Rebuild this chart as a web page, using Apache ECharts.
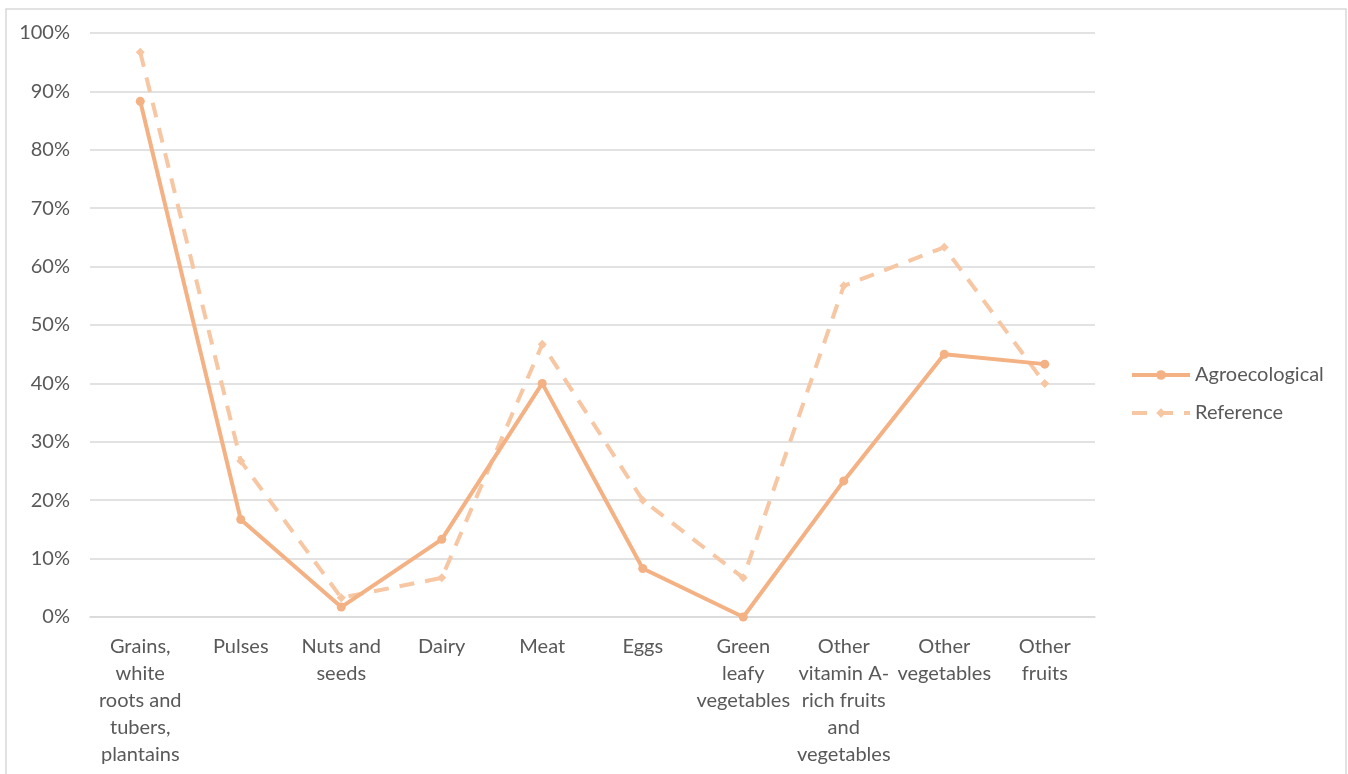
<!DOCTYPE html>
<html>
<head>
<meta charset="utf-8">
<script src="https://cdn.jsdelivr.net/npm/echarts@6/dist/echarts.min.js"></script>
<style>
  html, body { margin: 0; padding: 0; background: #fff; }
  #chart { width: 1348px; height: 774px; }
</style>
</head>
<body>
<div id="chart"></div>
<script>
// Food groups on the x axis
const categories = [
  'Grains,\nwhite\nroots and\ntubers,\nplantains',
  'Pulses',
  'Nuts and\nseeds',
  'Dairy',
  'Meat',
  'Eggs',
  'Green\nleafy\nvegetables',
  'Other\nvitamin A-\nrich fruits\nand\nvegetables',
  'Other\nvegetables',
  'Other\nfruits'
];

// Share of households consuming each group (%)
const agroecological = [88.3, 16.7, 1.7, 13.3, 40.0, 8.3, 0.0, 23.3, 45.0, 43.3];
const reference      = [96.7, 26.7, 3.3, 6.7, 46.7, 20.0, 6.7, 56.7, 63.3, 40.0];

const seriesNames = ['Agroecological', 'Reference'];

const FONT = 'Lato, "Open Sans", "Liberation Sans", sans-serif';
const TEXT = '#595959';
const FS = 20;

const chart = echarts.init(document.getElementById('chart'));
chart.setOption({
  animation: false,
  textStyle: { fontFamily: FONT },
  graphic: [{
    type: 'rect',
    shape: { x: 6, y: 9, width: 1340, height: 780 },
    style: { fill: 'none', stroke: '#d9d9d9', lineWidth: 1.5 },
    silent: true
  }],
  grid: { left: 90, right: 253, top: 33, bottom: 157, containLabel: false },
  legend: {
    orient: 'vertical',
    left: 1125,
    top: 360,
    itemWidth: 58,
    itemHeight: 12,
    itemGap: 18,
    lineStyle: { width: 4 },
    textStyle: { fontSize: FS, color: TEXT, fontFamily: FONT },
    data: seriesNames
  },
  xAxis: {
    type: 'category',
    data: categories,
    boundaryGap: true,
    axisLine: { show: true, lineStyle: { color: '#d9d9d9', width: 1.5 } },
    axisTick: { show: false },
    axisLabel: {
      interval: 0,
      margin: 16,
      fontSize: FS,
      lineHeight: 27,
      color: TEXT,
      fontFamily: FONT,
      align: 'center',
      verticalAlign: 'top'
    }
  },
  yAxis: {
    type: 'value',
    min: 0,
    max: 100,
    interval: 10,
    axisLine: { show: false },
    axisTick: { show: false },
    splitLine: { lineStyle: { color: '#d9d9d9', width: 1.5 } },
    axisLabel: {
      formatter: '{value}%',
      fontSize: FS,
      color: TEXT,
      fontFamily: FONT,
      margin: 20
    }
  },
  series: [
    {
      name: seriesNames[0],
      type: 'line',
      data: agroecological,
      symbol: 'circle',
      symbolSize: 9,
      z: 3,
      lineStyle: { color: '#F4B183', width: 4 },
      itemStyle: { color: '#F4B183' }
    },
    {
      name: seriesNames[1],
      type: 'line',
      data: reference,
      symbol: 'diamond',
      symbolSize: 9,
      z: 2,
      lineStyle: { color: '#F7C6A3', width: 4, type: [15, 11] },
      itemStyle: { color: '#F7C6A3' }
    }
  ]
});
</script>
</body>
</html>
